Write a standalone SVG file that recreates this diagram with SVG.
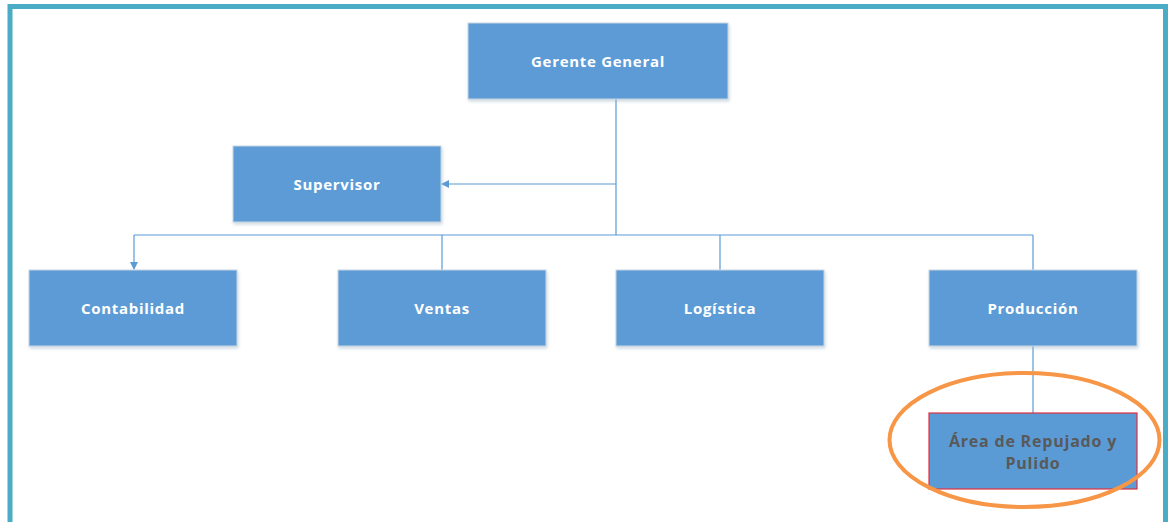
<svg xmlns="http://www.w3.org/2000/svg" width="1168" height="522" viewBox="0 0 1168 522">
<style>
.box{fill:#5B9BD5;stroke:#c9d6e3;stroke-width:1}
.lbl{font-family:"Open Sans","Liberation Sans",sans-serif;font-weight:bold;font-size:15px;letter-spacing:0.7px;fill:#ffffff;text-anchor:middle}
.dark{font-family:"Open Sans","Liberation Sans",sans-serif;font-weight:bold;font-size:16px;letter-spacing:0.8px;fill:#595959;text-anchor:middle}
.con{stroke:#5B9BD5;stroke-width:1.2;fill:none}
</style>
<defs>
<marker id="arr" markerWidth="8" markerHeight="8" refX="7" refY="4" orient="auto" markerUnits="userSpaceOnUse">
<path d="M0,0 L8,4 L0,8 Z" fill="#5B9BD5"/>
</marker>
<filter id="sh" x="-5%" y="-5%" width="115%" height="120%">
<feDropShadow dx="1" dy="2" stdDeviation="1.5" flood-color="#9fb4c8" flood-opacity="0.5"/>
</filter>
</defs>
<rect x="0" y="0" width="1168" height="522" fill="#ffffff"/>
<path d="M10,522 L10,6.5 L1165.5,6.5 L1165.5,522" fill="none" stroke="#4BACC6" stroke-width="5"/>
<g id="connectors">
<line class="con" x1="616" y1="99" x2="616" y2="235"/>
<line class="con" x1="616" y1="184" x2="442" y2="184" marker-end="url(#arr)"/>
<line class="con" x1="134" y1="235" x2="1033" y2="235"/>
<line class="con" x1="134" y1="235" x2="134" y2="269" marker-end="url(#arr)"/>
<line class="con" x1="442" y1="235" x2="442" y2="270"/>
<line class="con" x1="720" y1="235" x2="720" y2="270"/>
<line class="con" x1="1033" y1="235" x2="1033" y2="270"/>
<line class="con" x1="1033" y1="346" x2="1033" y2="413"/>
</g>
<g id="gerente"><rect class="box" filter="url(#sh)" x="468" y="23" width="260" height="76"/><text class="lbl" x="598" y="67">Gerente General</text></g>
<g id="supervisor"><rect class="box" filter="url(#sh)" x="233" y="146" width="208" height="76"/><text class="lbl" x="337" y="190">Supervisor</text></g>
<g id="contabilidad"><rect class="box" filter="url(#sh)" x="29" y="270" width="208" height="76"/><text class="lbl" x="133" y="314">Contabilidad</text></g>
<g id="ventas"><rect class="box" filter="url(#sh)" x="338" y="270" width="208" height="76"/><text class="lbl" x="442" y="314">Ventas</text></g>
<g id="logistica"><rect class="box" filter="url(#sh)" x="616" y="270" width="208" height="76"/><text class="lbl" x="720" y="314">Logística</text></g>
<g id="produccion"><rect class="box" filter="url(#sh)" x="929" y="270" width="208" height="76"/><text class="lbl" x="1033" y="314">Producción</text></g>
<g id="area"><rect x="929" y="413" width="208" height="76" fill="#5B9BD5" stroke="#e03040" stroke-width="1.2"/><text class="dark" x="1033" y="447">Área de Repujado y</text><text class="dark" x="1033" y="469">Pulido</text></g>
<g id="highlight"><ellipse cx="1024.5" cy="440" rx="135" ry="67" fill="none" stroke="#F79646" stroke-width="4"/></g>
</svg>
